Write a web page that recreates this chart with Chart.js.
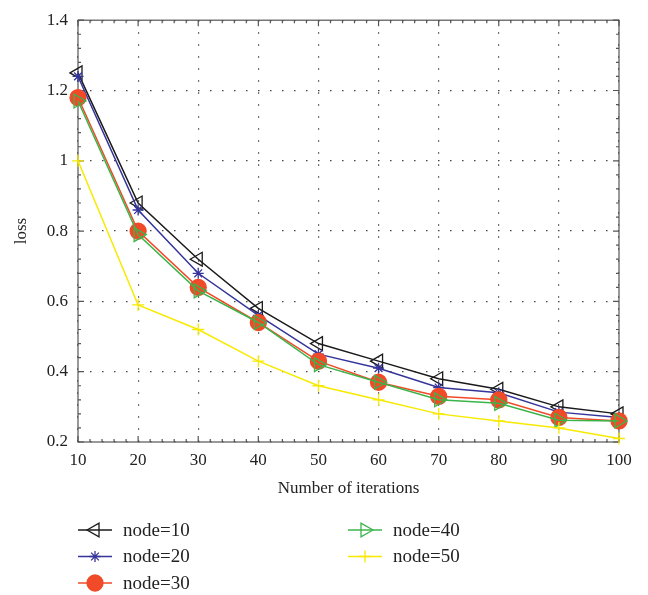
<!DOCTYPE html>
<html>
<head>
<meta charset="utf-8">
<script src="https://cdn.jsdelivr.net/npm/chart.js@4.4.1/dist/chart.umd.min.js"></script>
<style>
html, body { margin: 0; padding: 0; background: #fff; }
#wrap { width: 648px; height: 595px; }
</style>
</head>
<body>
<div id="wrap"><canvas id="lossChart"></canvas></div>
<script>
var iterations = [10, 20, 30, 40, 50, 60, 70, 80, 90, 100];
var node10 = [1.25, 0.88, 0.72, 0.58, 0.48, 0.43, 0.38, 0.35, 0.30, 0.28];
var node20 = [1.24, 0.86, 0.68, 0.56, 0.45, 0.41, 0.355, 0.34, 0.285, 0.27];
var node30 = [1.18, 0.80, 0.64, 0.54, 0.43, 0.37, 0.33, 0.32, 0.27, 0.26];
var node40 = [1.17, 0.79, 0.63, 0.54, 0.42, 0.37, 0.32, 0.31, 0.262, 0.26];
var node50 = [1.00, 0.59, 0.52, 0.43, 0.36, 0.32, 0.28, 0.26, 0.24, 0.21];
var seriesNames = ['node=10', 'node=20', 'node=30', 'node=40', 'node=50'];

var serif = '"Liberation Serif", "DejaVu Serif", serif';

function pts(vals) {
    return iterations.map(function(it, i) { return { x: it, y: vals[i] }; });
}

function series(name, vals, color, style, radius, rot, fill, order) {
    return {
        label: name,
        data: pts(vals),
        borderColor: color,
        borderWidth: 1.5,
        pointStyle: style,
        pointRadius: radius,
        pointHoverRadius: radius,
        pointRotation: rot,
        pointBorderColor: color,
        pointBackgroundColor: fill,
        pointBorderWidth: 1.3,
        tension: 0,
        clip: false,
        order: order
    };
}

// inward ticks and full box, matlab style
var boxPlugin = {
    id: 'boxTicks',
    beforeDatasetsDraw: function(chart) {
        var a = chart.chartArea, ctx = chart.ctx;
        var xs = chart.scales.x, ys = chart.scales.y;
        ctx.save();
        ctx.strokeStyle = '#555';
        ctx.lineWidth = 1.2;
        ctx.strokeRect(a.left, a.top, a.right - a.left, a.bottom - a.top);
        ctx.beginPath();
        for (var v = 10; v <= 100; v += 2) {
            var px = xs.getPixelForValue(v);
            var len = (v % 10 === 0) ? 6 : 3;
            ctx.moveTo(px, a.bottom); ctx.lineTo(px, a.bottom - len);
            ctx.moveTo(px, a.top); ctx.lineTo(px, a.top + len);
        }
        for (var k = 0; k <= 30; k++) {
            var py = ys.getPixelForValue(0.2 + k * 0.04);
            var l = (k % 5 === 0) ? 6 : 3;
            ctx.moveTo(a.left, py); ctx.lineTo(a.left + l, py);
            ctx.moveTo(a.right, py); ctx.lineTo(a.right - l, py);
        }
        ctx.stroke();
        ctx.restore();
    }
};

// two column legend under the axis
var legendPlugin = {
    id: 'bottomLegend',
    afterDraw: function(chart) {
        var ctx = chart.ctx;
        chart.data.datasets.forEach(function(ds, i) {
            var col = Math.floor(i / 3), row = i % 3;
            var x = 78 + col * 270, y = 530 + row * 26.5;
            ctx.save();
            ctx.strokeStyle = ds.borderColor;
            ctx.lineWidth = ds.borderWidth;
            ctx.beginPath();
            ctx.moveTo(x, y); ctx.lineTo(x + 34, y);
            ctx.stroke();
            ctx.fillStyle = ds.pointBackgroundColor;
            ctx.strokeStyle = ds.pointBorderColor;
            ctx.lineWidth = ds.pointBorderWidth;
            Chart.helpers.drawPoint(ctx, {
                pointStyle: ds.pointStyle,
                rotation: ds.pointRotation,
                radius: ds.pointRadius,
                borderWidth: ds.pointBorderWidth
            }, x + 17, y);
            ctx.fillStyle = '#222';
            ctx.font = '19px ' + serif;
            ctx.textBaseline = 'middle';
            ctx.textAlign = 'left';
            ctx.fillText(ds.label, x + 45, y + 1);
            ctx.restore();
        });
    }
};

var ctx = document.getElementById('lossChart').getContext('2d');
var chart = new Chart(ctx, {
    type: 'line',
    data: {
        datasets: [
            series(seriesNames[0], node10, '#1a1a1a', 'triangle', 8, -90, 'rgba(0,0,0,0)', 5),
            series(seriesNames[1], node20, '#34349a', 'star', 5.5, 0, 'rgba(0,0,0,0)', 4),
            series(seriesNames[2], node30, '#f04a28', 'circle', 8, 0, '#f04a28', 3),
            series(seriesNames[3], node40, '#3cb44a', 'triangle', 8, 90, 'rgba(0,0,0,0)', 2),
            series(seriesNames[4], node50, '#f7ea00', 'cross', 6, 0, 'rgba(0,0,0,0)', 1)
        ]
    },
    options: {
        responsive: true,
        maintainAspectRatio: false,
        animation: false,
        layout: { padding: { left: 0, top: 16, right: 29, bottom: 95 } },
        plugins: {
            legend: { display: false },
            tooltip: { enabled: false }
        },
        scales: {
            x: {
                type: 'linear',
                min: 10,
                max: 100,
                afterFit: function(s) { s.height = 58; },
                ticks: {
                    stepSize: 10,
                    padding: 8,
                    color: '#222',
                    font: { family: serif, size: 17 }
                },
                grid: { color: '#444', lineWidth: 1.2, drawTicks: false },
                border: { display: false, dash: [1.5, 10.5] },
                title: {
                    display: true,
                    text: 'Number of iterations',
                    color: '#222',
                    font: { family: serif, size: 17 },
                    padding: { top: 0, bottom: 1 }
                }
            },
            y: {
                min: 0.2,
                max: 1.4,
                afterFit: function(s) { s.width = 78; },
                ticks: {
                    stepSize: 0.2,
                    padding: 10,
                    color: '#222',
                    font: { family: serif, size: 17 },
                    callback: function(v) { return +v.toFixed(1); }
                },
                grid: { color: '#444', lineWidth: 1.2, drawTicks: false },
                border: { display: false, dash: [1.5, 10.5] },
                title: {
                    display: true,
                    text: 'loss',
                    color: '#222',
                    font: { family: serif, size: 17 },
                    padding: { top: 11, bottom: 0 }
                }
            }
        }
    },
    plugins: [boxPlugin, legendPlugin]
});
</script>
</body>
</html>
